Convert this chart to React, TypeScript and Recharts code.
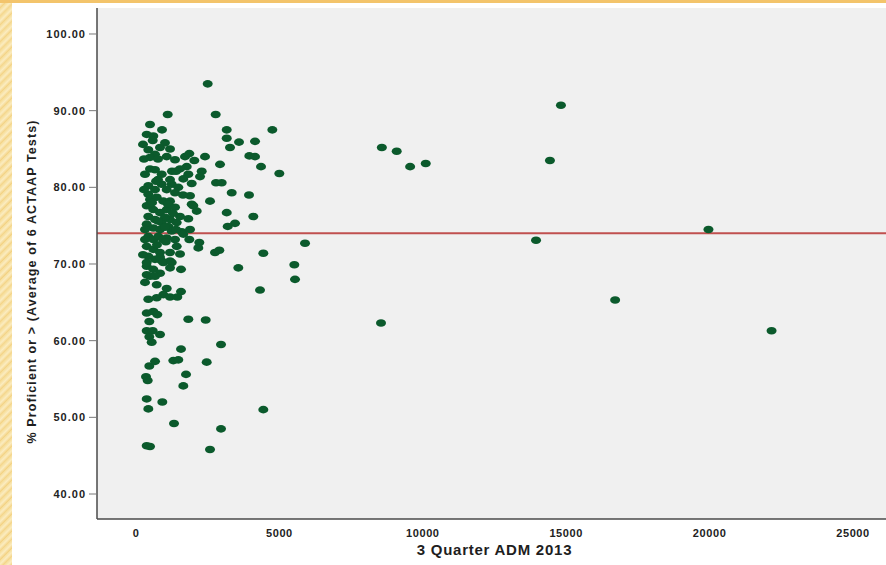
import React from 'react';
import { ScatterChart, Scatter, XAxis, YAxis, ReferenceLine, CartesianGrid } from 'recharts';

// 3 Quarter ADM 2013 (x) and % Proficient or above (y)
const admValues: number[] = [
  2500, 1105, 2779, 488, 3163, 4753, 907, 373, 603, 3163,
  3592, 4150, 1011, 582, 3278, 837, 429, 663, 488, 1070,
  1360, 1709, 1859, 2033, 2406, 3951, 4150, 2929, 4359, 4997,
  488, 663, 896, 1768, 1534, 1824, 2291, 2232, 1649, 1942,
  2790, 2988, 3337, 3940, 429, 663, 896, 1070, 1245, 1475,
  1360, 429, 488, 722, 952, 1186, 1883, 1942, 2580, 1998,
  2117, 373, 603, 837, 1070, 3163, 4090, 429, 663, 896,
  1186, 1534, 1824, 1419, 3452, 3198, 373, 603, 837, 1126,
  1245, 1594, 429, 603, 778, 1070, 1360, 1649, 1859, 2207,
  2172, 1419, 373, 603, 837, 1186, 1534, 2755, 2905, 4439,
  429, 663, 896, 1186, 1569, 3567, 5520, 373, 603, 837,
  488, 373, 952, 1245, 1186, 5544, 373, 663, 314, 722,
  1070, 1569, 4324, 952, 429, 722, 1186, 1440, 373, 603,
  743, 464, 1824, 2430, 373, 582, 837, 464, 547, 1569,
  2964, 464, 663, 1301, 1475, 2465, 349, 408, 1744, 1649,
  373, 917, 429, 4439, 1325, 2964, 373, 488, 2580, 8572,
  9090, 9558, 10102, 14816, 14433, 13948, 19960, 16706, 8543, 22160,
  5893, 279, 279, 244, 732, 1011, 767, 1255, 314, 941,
  1116, 314, 1186, 1395, 488, 767, 1360, 1639, 1011, 314,
  1395, 1883, 837, 767, 1186, 244, 560, 1290, 700, 1040,
];

const proficientValues: number[] = [
  93.5, 89.5, 89.5, 88.2, 87.5, 87.5, 87.5, 86.9, 86.7, 86.4,
  85.9, 86.0, 85.8, 86.1, 85.2, 85.2, 84.9, 84.3, 83.9, 84.0,
  83.6, 84.0, 84.4, 83.5, 84.0, 84.1, 84.0, 83.0, 82.7, 81.8,
  82.4, 82.3, 81.7, 82.7, 82.4, 81.7, 82.1, 81.4, 81.1, 80.5,
  80.6, 80.6, 79.3, 79.0, 80.2, 79.7, 80.4, 79.7, 80.4, 80.0,
  79.3, 79.1, 78.4, 78.7, 78.2, 78.2, 78.9, 77.8, 78.2, 77.6,
  76.9, 77.6, 77.1, 76.7, 77.1, 76.7, 76.2, 76.2, 75.8, 75.4,
  75.8, 76.2, 75.9, 75.4, 75.3, 74.9, 75.2, 74.7, 74.5, 74.9,
  74.3, 74.2, 73.6, 73.2, 73.6, 73.4, 73.2, 73.9, 73.2, 72.8,
  72.1, 72.3, 72.3, 71.9, 71.5, 71.5, 71.3, 71.5, 71.8, 71.4,
  71.0, 70.6, 70.4, 70.4, 69.3, 69.5, 69.9, 69.7, 69.3, 68.8,
  68.4, 70.2, 70.2, 70.2, 69.5, 68.0, 68.6, 68.4, 67.6, 67.3,
  66.8, 66.4, 66.6, 66.0, 65.4, 65.6, 65.7, 65.7, 63.6, 63.8,
  63.4, 62.5, 62.8, 62.7, 61.3, 61.3, 60.8, 60.5, 59.8, 58.9,
  59.5, 56.7, 57.3, 57.4, 57.5, 57.2, 55.3, 54.8, 55.6, 54.1,
  52.4, 52.0, 51.1, 51.0, 49.2, 48.5, 46.3, 46.2, 45.8, 85.2,
  84.7, 82.7, 83.1, 90.7, 83.5, 73.1, 74.5, 65.3, 62.3, 61.3,
  72.7, 83.7, 79.7, 71.2, 72.5, 76.1, 81.0, 82.1, 74.5, 73.2,
  77.8, 81.7, 81.0, 82.1, 77.8, 75.6, 77.4, 79.0, 74.8, 73.2,
  74.5, 74.5, 70.9, 83.7, 85.0, 85.6, 78.0, 76.6, 80.8, 72.9,
];

const meanProficient = 74.0;
const xTicks: number[] = [0, 5000, 10000, 15000, 20000, 25000];
const yTicks: number[] = [40, 50, 60, 70, 80, 90, 100];
const xDomain: [number, number] = [-1360, 26150];
const yDomain: [number, number] = [36.74, 103.39];

const points = admValues.map((x, i) => ({ x, y: proficientValues[i] }));

const FONT = '"Liberation Sans", Arial, sans-serif';

const Dot = (props: any) => {
  const { cx, cy } = props;
  if (cx == null || cy == null) return null;
  return <ellipse cx={cx} cy={cy} rx={5} ry={3.8} fill="#0b5a2c" />;
};

const YTitle = (props: any) => {
  const vb = props.viewBox || {};
  const x = (vb.x || 0) + 32;
  const y = (vb.y || 0) + (vb.height || 0) / 2 + 18;
  return (
    <text
      x={x}
      y={y}
      transform={`rotate(-90, ${x}, ${y})`}
      textAnchor="middle"
      dominantBaseline="central"
      fontFamily={FONT}
      fontWeight="bold"
      fontSize={12.5}
      letterSpacing={1.1}
      fill="#1e1e1e"
    >
      % Proficient or &gt; (Average of 6 ACTAAP Tests)
    </text>
  );
};

const XTitle = (props: any) => {
  const vb = props.viewBox || {};
  const x = (vb.x || 0) + (vb.width || 0) / 2 + 3;
  const y = (vb.y || 0) + 35.5;
  return (
    <text
      x={x}
      y={y}
      textAnchor="middle"
      fontFamily={FONT}
      fontWeight="bold"
      fontSize={15}
      letterSpacing={0.75}
      fill="#1e1e1e"
    >
      3 Quarter ADM 2013
    </text>
  );
};

export default function App() {
  return (
    <div
      style={{
        position: 'absolute',
        left: 0,
        top: 0,
        width: 886,
        height: 565,
        background: '#ffffff',
        overflow: 'hidden',
      }}
    >
      <div
        style={{
          position: 'absolute',
          left: 0,
          top: 0,
          width: 12,
          height: 565,
          background:
            'repeating-linear-gradient(135deg, #f6dc96 0px, #fbecc0 3px, #f3d283 6px)',
        }}
      />
      <div
        style={{
          position: 'absolute',
          left: 0,
          top: 0,
          width: 886,
          height: 3,
          background: '#f3c46b',
        }}
      />
      <div style={{ position: 'absolute', left: 0, top: 0 }}>
        <ScatterChart width={886} height={565} margin={{ top: 8, right: 0, bottom: 0, left: 0 }}>
          <CartesianGrid fill="#f0f0f0" stroke="transparent" horizontal={false} vertical={false} />
          <XAxis
            xAxisId="top"
            orientation="top"
            type="number"
            dataKey="x"
            domain={xDomain}
            allowDataOverflow
            height={0}
            tick={false}
            tickLine={false}
            axisLine={{ stroke: '#9b9b9b', strokeWidth: 2 }}
          />
          <XAxis
            type="number"
            dataKey="x"
            domain={xDomain}
            allowDataOverflow
            ticks={xTicks}
            interval={0}
            height={46}
            tickLine={false}
            tickSize={6}
            tickMargin={4}
            axisLine={{ stroke: '#4a4a4a', strokeWidth: 1.5 }}
            tick={{ fontFamily: FONT, fontWeight: 'bold', fontSize: 11, fill: '#222', letterSpacing: 0.6 }}
            label={<XTitle />}
          />
          <YAxis
            type="number"
            dataKey="y"
            domain={yDomain}
            allowDataOverflow
            ticks={yTicks}
            interval={0}
            width={97}
            tickSize={8}
            tickMargin={3}
            tickLine={{ stroke: '#777', strokeWidth: 1 }}
            axisLine={{ stroke: '#4a4a4a', strokeWidth: 1.5 }}
            tickFormatter={(v: number) => v.toFixed(2)}
            tick={{ fontFamily: FONT, fontWeight: 'bold', fontSize: 11, fill: '#222', letterSpacing: 1 }}
            label={<YTitle />}
          />
          <Scatter data={points} shape={<Dot />} isAnimationActive={false} />
          <ReferenceLine y={meanProficient} stroke="#c0504f" strokeWidth={2} ifOverflow="extendDomain" />
        </ScatterChart>
      </div>
    </div>
  );
}
